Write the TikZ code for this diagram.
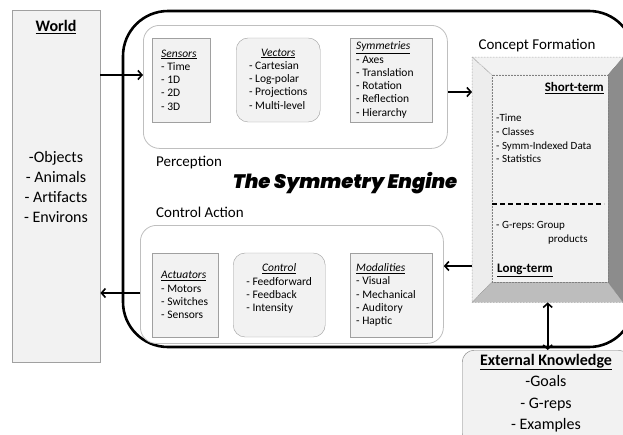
\documentclass[tikz,border=0pt]{standalone}
\usepackage{fontspec}
\setmainfont{Carlito}
\newfontfamily\enginefont{Poppins Black Italic}
\usetikzlibrary{arrows.meta,shapes.misc}
\frenchspacing

\definecolor{boxgray}{HTML}{F2F2F2}
\definecolor{edgegray}{HTML}{A0A0A0}
\definecolor{panelgray}{HTML}{BFBFBF}
\definecolor{facelight}{HTML}{EDEDED}
\definecolor{facemid}{HTML}{BDBDBD}
\definecolor{facedark}{HTML}{8C8C8C}

\newcommand{\hd}[1]{\underline{\textit{#1}}}

\tikzset{
  greybox/.style={draw=edgegray, fill=boxgray, inner sep=0pt},
  panel/.style={draw=panelgray, fill=white, line width=0.8pt, rounded corners=16pt, inner sep=0pt},
  subbox/.style={draw=edgegray, fill=boxgray, inner sep=0pt, minimum height=84pt, anchor=west},
  snip/.style={chamfered rectangle, chamfered rectangle corners=north east,
    chamfered rectangle xsep=4pt, chamfered rectangle ysep=4pt},
  listtext/.style={font=\fontsize{11.5}{13.3}\selectfont, inner sep=0pt, align=left},
  heading/.style={font=\fontsize{15}{18}\selectfont, inner sep=0pt},
  flow/.style={line width=1.6pt, -{Straight Barb[length=4pt,width=9pt]}},
  bevelline/.style={draw=gray, densely dotted, line width=0.5pt},
}

\begin{document}
\begin{tikzpicture}[x=1pt,y=-1pt]
  \useasboundingbox (0,0) rectangle (623,434);

  %%%%% world %%%%%
  \node[greybox, minimum width=88pt, minimum height=352pt, anchor=north west] (world) at (12,10) {};
  \node[font=\fontsize{16}{20}\selectfont\bfseries, inner sep=0pt] (worldhd) at (56,27) {\underline{World}};
  \node[font=\fontsize{16}{20}\selectfont, align=center, inner sep=0pt] (worldlist) at (56,187)
    {-Objects\\- Animals\\- Artifacts\\- Environs};

  %%%%% engine %%%%%
  \draw[line width=2.6pt, rounded corners=45pt] (123,11) rectangle (634,347);

  \node[panel, minimum width=304pt, minimum height=123pt, anchor=north west] (perception) at (143,25) {};
  \node[panel, minimum width=303pt, minimum height=118pt, anchor=north west] (action) at (140,225) {};

  \node[subbox, snip, minimum width=58pt] (sensors) at (152,80) {};
  \node[subbox, rounded corners=12pt, minimum width=84pt] (vectors) at (236,80) {};
  \node[subbox, minimum width=82pt] (symmetries) at (350,80) {};
  \node[listtext, anchor=west] (sensorstext) at ([xshift=9pt]sensors.west)
    {\hd{Sensors}\\- Time\\- 1D\\- 2D\\- 3D};
  \node[listtext] (vectorstext) at (vectors.center)
    {\begin{tabular}{@{}l@{}}\multicolumn{1}{@{}c@{}}{\hd{Vectors}}\\- Cartesian\\- Log-polar\\- Projections\\- Multi-level\end{tabular}};
  \node[listtext, anchor=west] (symmetriestext) at ([xshift=6pt]symmetries.west)
    {\hd{Symmetries}\\- Axes\\- Translation\\- Rotation\\- Reflection\\- Hierarchy};

  \node[subbox, snip, minimum width=66pt] (actuators) at (152,295) {};
  \node[subbox, rounded corners=12pt, minimum width=92pt] (controlbox) at (233,295) {};
  \node[subbox, minimum width=82pt] (modalities) at (350,295) {};
  \node[listtext, anchor=west] (actuatorstext) at ([xshift=9pt]actuators.west)
    {\hd{Actuators}\\- Motors\\- Switches\\- Sensors};
  \node[listtext] (controltext) at ([yshift=6pt]controlbox.center)
    {\begin{tabular}{@{}l@{}}\multicolumn{1}{@{}c@{}}{\hd{Control}}\\- Feedforward\\- Feedback\\- Intensity\end{tabular}};
  \node[listtext, anchor=west] (modalitiestext) at ([xshift=6pt]modalities.west)
    {\hd{Modalities}\\- Visual\\- Mechanical\\- Auditory\\- Haptic};

  \node[heading, anchor=west] (perclabel) at (156,163) {Perception};
  \node[heading, anchor=west] (actlabel) at (156,212) {Control Action};
  \node[font=\enginefont\fontsize{19.5}{22}\selectfont, inner sep=0pt] (title) at (345,183) {The Symmetry Engine};

  %%%%% concept formation %%%%%
  \node[heading] (cflabel) at (537,46) {Concept Formation};
  \node[inner sep=0pt, minimum width=151pt, minimum height=245pt, anchor=north west] (bevel) at (472,57) {};
  \coordinate (inw) at (492,75);
  \coordinate (ine) at (608,75);
  \coordinate (ise) at (608,282);
  \coordinate (isw) at (492,282);
  \filldraw[fill=boxgray, bevelline] (bevel.north west) -- (bevel.north east) -- (ine) -- (inw) -- cycle;
  \filldraw[fill=facelight, bevelline] (bevel.north west) -- (inw) -- (isw) -- (bevel.south west) -- cycle;
  \filldraw[fill=facemid, bevelline] (bevel.south west) -- (isw) -- (ise) -- (bevel.south east) -- cycle;
  \filldraw[fill=facedark, bevelline] (bevel.north east) -- (ine) -- (ise) -- (bevel.south east) -- cycle;
  \filldraw[fill=boxgray, bevelline] (inw) rectangle (ise);

  \node[font=\fontsize{13}{16}\selectfont\bfseries, inner sep=0pt, anchor=east] (shortterm) at (604,88) {\underline{Short-term}};
  \node[font=\fontsize{11}{13.7}\selectfont, inner sep=0pt, anchor=north west, align=left] (stlist) at (496,114)
    {-Time\\- Classes\\- Symm-Indexed Data\\- Statistics};
  \draw[line width=1.6pt, dash pattern=on 5pt off 3pt] (isw |- 0,204) -- (604,204);
  \node[font=\fontsize{11}{13.7}\selectfont, inner sep=0pt, anchor=north west, align=left] (ltlist) at (496,221)
    {- G-reps: Group\\\hspace*{52pt}products};
  \node[font=\fontsize{13}{16}\selectfont\bfseries, inner sep=0pt, anchor=west] (longterm) at (497,270) {\underline{Long-term}};

  %%%%% external knowledge %%%%%
  \node[greybox, draw=gray, rounded corners=12pt, minimum width=168pt, minimum height=95pt, anchor=north west] (ext) at (462,350) {};
  \node[font=\fontsize{16}{21.5}\selectfont, inner sep=0pt, anchor=north, align=center] (extlist) at (546,354)
    {\textbf{\underline{External Knowledge}}\\-Goals\\- G-reps\\- Examples};

  %%%%% arrows %%%%%
  \draw[flow] (world.east |- 0,75) -- (perception.west |- 0,75);
  \draw[flow] (perception.east |- 0,92) -- (bevel.west |- 0,92);
  \draw[flow] (bevel.west |- 0,266) -- (action.east |- 0,266);
  \draw[flow] (action.west |- 0,293) -- (world.east |- 0,293);
  \draw[line width=1.6pt, {Straight Barb[length=4pt,width=9pt]}-{Straight Barb[length=4pt,width=9pt]}]
    (bevel.south) -- (bevel.south |- ext.north);
\end{tikzpicture}
\end{document}
